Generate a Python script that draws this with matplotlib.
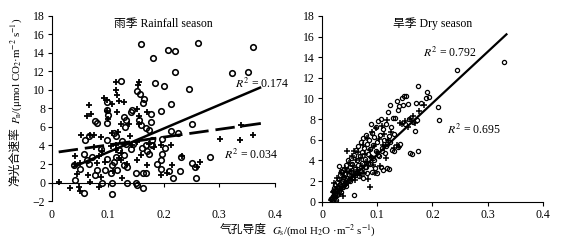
import matplotlib
matplotlib.use("Agg")
import matplotlib.pyplot as plt
import numpy as np

plt.rcParams['font.family'] = ['Liberation Serif', 'Noto Sans CJK SC']
plt.rcParams['mathtext.fontset'] = 'stix'

# ---------------- data ----------------
rain_o_x = [0.160,0.262,0.360,0.208,0.220,0.181,0.220,0.323,0.351,0.123,0.185,0.201,0.246,0.152,0.158,0.165,0.164,0.213,0.196,0.177,0.141,0.143,0.099,0.099,0.100,0.129,0.133,0.156,0.178,0.077,0.081,0.099,0.251,0.131,0.159,0.169,0.174,0.214,0.226,0.111,0.114,0.059,0.066,0.099,0.180,0.198,0.132,0.168,0.179,0.087,0.141,0.162,0.171,0.174,0.198,0.202,0.232,0.283,0.057,0.072,0.062,0.066,0.099,0.108,0.111,0.189,0.195,0.251,0.257,0.051,0.080,0.095,0.105,0.117,0.129,0.135,0.150,0.163,0.169,0.196,0.209,0.229,0.217,0.259,0.042,0.078,0.089,0.107,0.135,0.151,0.153,0.163,0.108,0.057,0.039,0.120,0.125,0.145,0.115,0.130]
rain_o_y = [15.0,15.1,14.6,14.3,14.2,13.4,11.9,11.8,11.9,11.0,10.8,10.4,10.1,9.9,9.6,9.0,8.6,8.5,7.7,7.4,7.6,7.8,8.7,7.8,7.3,7.1,6.7,6.8,6.5,6.6,6.4,6.4,6.3,6.0,6.2,5.9,5.7,5.6,5.3,5.3,5.0,4.6,5.0,4.6,4.6,4.7,4.2,4.0,4.0,3.6,3.6,3.7,3.4,3.1,3.1,3.7,2.8,2.8,3.1,2.8,2.4,2.0,2.5,1.9,2.2,2.0,2.4,2.1,1.7,1.5,1.4,1.3,1.0,1.3,1.9,1.7,1.0,1.0,1.0,1.5,1.2,1.2,0.5,0.5,0.3,0.8,-0.1,0.0,0.0,0.0,-0.3,-0.6,-1.2,-1.1,1.9,3.5,4.5,4.2,2.8,3.0]

rain_p_x = [0.114,0.156,0.155,0.114,0.117,0.094,0.099,0.108,0.120,0.066,0.129,0.116,0.098,0.100,0.153,0.156,0.171,0.070,0.063,0.052,0.068,0.076,0.087,0.108,0.118,0.123,0.138,0.156,0.105,0.114,0.114,0.123,0.144,0.153,0.174,0.183,0.042,0.042,0.051,0.081,0.085,0.120,0.124,0.153,0.171,0.195,0.214,0.215,0.233,0.195,0.207,0.045,0.068,0.087,0.012,0.033,0.048,0.051,0.084,0.302,0.337,0.360,0.266,0.260,0.338,0.090,0.135,0.140,0.160,0.075,0.095,0.110,0.125,0.065]
rain_p_y = [10.9,10.9,10.5,9.96,9.4,9.1,8.9,8.5,8.8,8.4,8.7,7.6,7.7,6.9,7.9,7.2,7.6,7.4,7.2,5.1,5.1,5.1,4.9,5.3,5.5,6.3,6.3,6.3,3.9,4.0,3.5,3.2,4.0,4.4,4.2,3.8,2.9,2.0,2.1,2.1,2.9,2.7,2.4,2.4,1.9,4.1,4.0,1.9,2.9,0.8,1.0,0.9,0.1,0.6,0.1,-0.6,-0.5,-0.9,-0.5,4.7,4.6,5.1,2.2,1.7,6.2,3.4,2.0,5.0,3.0,3.8,2.2,1.2,0.5,0.8]

dry_o_x = [0.016,0.018,0.019,0.020,0.021,0.022,0.023,0.024,0.025,0.026,0.027,0.028,0.029,0.030,0.030,0.031,0.032,0.033,0.034,0.035,0.036,0.037,0.038,0.039,0.040,
           0.041,0.042,0.043,0.044,0.045,0.046,0.047,0.048,0.050,0.050,0.052,0.053,0.055,0.056,0.058,0.058,0.060,0.061,0.062,0.063,0.065,0.066,0.067,0.068,0.070,0.070,
           0.072,0.073,0.074,0.075,0.076,0.078,0.079,0.080,0.081,0.082,0.083,0.085,0.086,0.087,0.088,0.089,0.090,0.091,0.092,0.094,0.095,0.096,0.097,0.098,0.100,0.100,
           0.102,0.103,0.105,0.106,0.107,0.108,0.110,0.111,0.112,0.114,0.115,0.117,0.118,0.120,0.121,0.122,0.124,0.125,0.126,0.128,0.130,0.130,
           0.133,0.135,0.137,0.138,0.140,0.142,0.145,0.147,0.149,0.150,0.152,0.155,0.158,0.160,0.163,0.165,0.168,0.170,0.172,0.174,0.174,0.180,0.188,0.190,0.193,0.210,0.212,0.244,0.329,
           0.022,0.026,0.031,0.035,0.039,0.044,0.049,0.054,0.059,0.064,0.069,0.077,0.084,0.093,0.101,0.109,0.116,0.123]
dry_o_y = [0.3,0.1,0.6,1.0,0.4,1.3,0.8,1.6,0.2,1.1,1.9,0.7,1.4,2.2,3.5,1.0,2.6,1.7,3.0,0.9,2.0,2.9,1.4,2.4,3.2,
           1.9,2.7,3.6,1.5,2.3,3.1,4.0,2.6,3.4,2.0,4.2,2.9,3.7,2.4,4.5,0.7,3.2,5.0,2.8,4.0,3.6,5.4,2.5,4.4,3.0,5.8,
           4.8,3.8,6.2,2.3,5.2,4.1,6.5,3.4,5.6,2.8,4.6,6.0,3.7,5.1,7.5,4.3,6.7,2.9,5.5,4.0,6.3,3.3,7.2,4.9,5.8,2.8,
           7.8,4.4,6.5,3.4,8.0,5.2,7.0,3.1,6.0,4.7,7.5,3.3,5.6,8.7,6.4,3.2,9.4,7.2,5.0,8.1,4.9,6.6,
           8.1,9.8,5.3,8.9,9.3,5.6,10.0,9.4,10.2,7.5,10.2,9.5,8.0,4.7,4.6,7.7,6.9,9.6,7.9,11.2,4.9,9.6,10.0,10.6,10.1,9.2,7.9,12.8,13.5,
           0.9,1.0,1.3,1.5,1.6,1.8,2.1,2.3,2.6,2.8,3.1,3.4,3.8,4.2,4.5,4.9,5.4,5.8]

dry_p_x = [0.017,0.019,0.021,0.022,0.024,0.025,0.027,0.028,0.030,0.032,0.033,0.035,0.036,0.038,0.040,0.042,0.044,0.045,0.046,0.048,0.050,0.052,0.054,0.055,0.057,0.058,0.060,0.062,0.064,0.066,0.068,0.070,0.072,0.074,0.076,0.078,0.080,0.082,0.084,0.086,0.087,0.088,0.090,0.092,0.094,0.096,0.098,0.100,0.103,0.105,0.108,0.110,0.113,0.115,0.118,0.120,0.125,0.130,0.135,0.140,0.142,0.145,0.150,0.155,0.160,0.165,0.168,0.175,0.185]
dry_p_y = [0.2,0.9,0.5,1.8,0.1,1.2,0.6,2.3,1.5,0.8,2.0,2.8,1.2,0.6,2.4,3.3,1.8,4.9,2.9,3.8,2.2,3.0,4.4,2.6,3.5,4.9,2.1,4.0,3.1,4.8,2.6,4.2,3.5,5.5,2.8,4.6,3.9,6.2,2.2,5.0,1.4,4.3,6.8,3.6,5.4,2.8,7.1,4.8,6.1,3.5,7.3,5.5,6.6,4.2,7.9,6.0,6.8,5.2,5.5,5.3,7.6,7.5,7.8,7.2,8.0,8.3,7.6,8.8,9.4]

# regression lines: [slope, intercept], x-range
rain_fit_o = [25.6, 0.70]
rain_fit_p = [8.5, 3.2]
rain_fit_range = [0.037, 0.375]
rain_fit_range_p = [0.012, 0.375]
dry_fit = [49.7, -0.39]
dry_fit_range = [0.0145, 0.334]

x_ticks = [0, 0.1, 0.2, 0.3, 0.4]
x_ticklabels = ['0', '0.1', '0.2', '0.3', '0.4']
rain_yticks = list(range(-2, 19, 2))
dry_yticks = list(range(0, 19, 2))

# ---------------- figure ----------------
fig = plt.figure(figsize=(5.62, 2.44), dpi=100)
ax1 = fig.add_axes([0.0925, 0.176, 0.397, 0.759])
ax2 = fig.add_axes([0.573, 0.173, 0.393, 0.762])

fs = 8.5

# left
ax1.plot(rain_o_x, rain_o_y, 'o', mfc='none', mec='black', ms=4.0, mew=1.15, ls='none')
ax1.plot(rain_p_x, rain_p_y, '+', color='black', ms=5.0, mew=1.3, ls='none')
xr = np.array(rain_fit_range)
ax1.plot(xr, rain_fit_o[0]*xr + rain_fit_o[1], color='black', lw=1.8, solid_capstyle='butt')
xp = np.array(rain_fit_range_p)
ax1.plot(xp, rain_fit_p[0]*xp + rain_fit_p[1], color='black', lw=2.0, dashes=(7, 2.5))
ax1.set_xlim(0, 0.4)
ax1.set_ylim(-2, 18)
ax1.set_xticks(x_ticks)
ax1.set_xticklabels(x_ticklabels)
ax1.set_yticks(rain_yticks)
ax1.set_yticklabels([('\u2212' + str(-v)) if v < 0 else str(v) for v in rain_yticks])
ax1.spines['bottom'].set_position(('data', 0))
ax1.spines['top'].set_visible(False)
ax1.spines['right'].set_visible(False)
ax1.tick_params(axis='x', direction='out', length=3, pad=16, labelsize=fs)
ax1.tick_params(axis='y', direction='out', length=3, pad=2, labelsize=fs)
ax1.set_facecolor('none')
ax1.text(0.5, 0.99, '雨季 Rainfall season', transform=ax1.transAxes, ha='center', va='top', fontsize=8.5)
ax1.text(0.328, 10.7, r'$R^2$ = 0.174', fontsize=8.5, va='center')
ax1.text(0.309, 3.0, r'$R^2$ = 0.034', fontsize=8.5, va='center')

# right
ax2.plot(dry_o_x, dry_o_y, 'o', mfc='none', mec='black', ms=3.0, mew=0.9, ls='none')
ax2.plot(dry_p_x, dry_p_y, '+', color='black', ms=4.5, mew=1.1, ls='none')
xd = np.array(dry_fit_range)
ax2.plot(xd, dry_fit[0]*xd + dry_fit[1], color='black', lw=1.6)
ax2.set_xlim(0, 0.4)
ax2.set_ylim(0, 18)
ax2.set_xticks(x_ticks)
ax2.set_xticklabels(x_ticklabels)
ax2.set_yticks(dry_yticks)
ax2.spines['top'].set_visible(False)
ax2.spines['right'].set_visible(False)
ax2.tick_params(axis='x', direction='out', length=3, pad=2, labelsize=fs)
ax2.tick_params(axis='y', direction='out', length=3, pad=2, labelsize=fs)
ax2.text(0.5, 0.99, '旱季 Dry season', transform=ax2.transAxes, ha='center', va='top', fontsize=8.5)
ax2.text(0.183, 14.4, r'$R^2$ = 0.792', fontsize=8.5, va='center')
ax2.text(0.226, 7.0, r'$R^2$ = 0.695', fontsize=8.5, va='center')

# axis labels (CJK part as plain text, formula part as mathtext)
renderer = fig.canvas.get_renderer()
W, H = fig.bbox.width, fig.bbox.height

ty1 = fig.text(0.028, 0.236, '净光合速率', rotation=90, ha='center', va='bottom', fontsize=8.5)
bb = ty1.get_window_extent(renderer)
ty2 = fig.text(0.028, (bb.y1 + 4) / H, r'$P_{\rm n}$/(μmol CO$_2$·m$^{-2}$ s$^{-1}$)',
               rotation=90, ha='center', va='bottom', fontsize=7.8)

tx1 = fig.text(220 / W, 0.057, '气孔导度', ha='left', va='center', fontsize=8.5)
bb = tx1.get_window_extent(renderer)
tx2 = fig.text((bb.x1 + 5) / W, 0.057, r'$G_{\rm s}$/(mol H$_2$O ·m$^{-2}$ s$^{-1}$)',
               ha='left', va='center', fontsize=7.8)

fig.savefig('out.png', dpi=100)
